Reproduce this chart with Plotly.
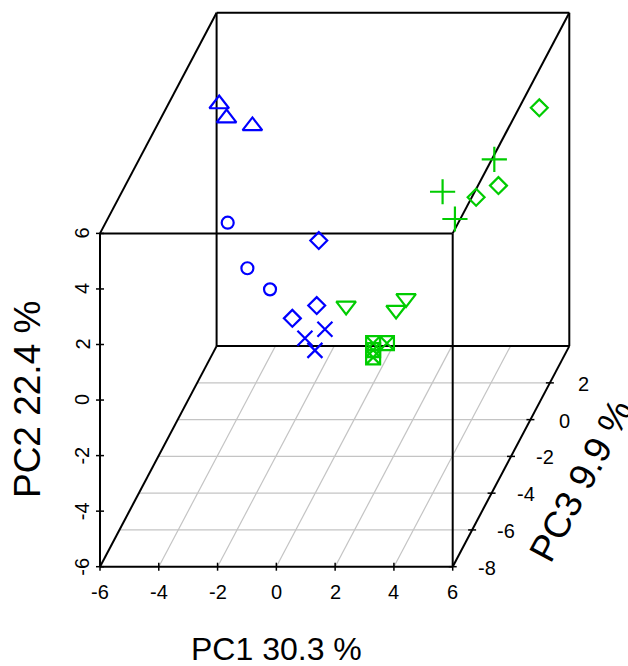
import plotly.graph_objects as go

# ---------------- data (PC scores) ----------------
pc1_ticks = [-6, -4, -2, 0, 2, 4, 6]
pc2_ticks = [-6, -4, -2, 0, 2, 4, 6]
pc3_ticks = [-8, -6, -4, -2, 0, 2]
PC1_LIM = (-6, 6)
PC2_LIM = (-6, 6)
PC3_LIM = (-8, 4)

pc1_title = "PC1 30.3 %"
pc2_title = "PC2 22.4 %"
pc3_title = "PC3 9.9 %"

# blue groups
b_tri_x = [-5.25, -5.00, -4.12]
b_tri_y = [4.04, 3.53, 3.25]
b_tri_z = [2.0, 2.0, 2.0]

b_circ_x = [-4.30, -3.63, -2.86]
b_circ_y = [1.09, -0.55, -1.31]
b_circ_z = [0.0, 0.0, 0.0]

b_dia_x = [-0.54, -0.61, -1.44]
b_dia_y = [1.77, -0.57, -1.03]
b_dia_z = [-2.0, -2.0, -2.0]

b_x_x = [0.33, -0.35, -0.01]
b_x_y = [-0.10, -0.42, -0.86]
b_x_z = [-4.0, -4.0, -4.0]

# green groups
g_tri_x = [0.39, 2.09, 2.43]
g_tri_y = [-0.58, -0.73, -0.31]
g_tri_z = [-2.0, -2.0, -2.0]

g_sq_x = [1.97, 1.97, 1.97, 2.44]
g_sq_y = [-0.60, -0.85, -1.11, -0.60]
g_sq_z = [-4.0, -4.0, -4.0, -4.0]

g_plus_x = [2.35, 2.77, 4.11]
g_plus_y = [0.88, -0.10, 2.05]
g_plus_z = [2.0, 2.0, 2.0]

g_dia_x = [5.31, 3.92, 3.16]
g_dia_y = [3.24, 0.44, 0.02]
g_dia_z = [3.0, 3.0, 3.0]

# ---------------- oblique projection setup (style) ----------------
W, H = 628, 666
ORIGIN_PX = (100.0, 566.7)       # pixel of (PC1=-6, PC2=-6, PC3=-8)
PX = 352.7 / 12.0                # px per PC1 unit
PY = 333.3 / 12.0                # px per PC2 unit
DEPTH_PX = (116.6, 220.6)        # pixel shift over the full PC3 range
zspan = PC3_LIM[1] - PC3_LIM[0]
KX = DEPTH_PX[0] / PX / zspan
KY = DEPTH_PX[1] / PY / zspan

u_left = PC1_LIM[0] - ORIGIN_PX[0] / PX
u_right = u_left + W / PX
v_bottom = PC2_LIM[0] - (H - ORIGIN_PX[1]) / PY
v_top = v_bottom + H / PY


def proj(x, y, z):
    return x + (z - PC3_LIM[0]) * KX, y + (z - PC3_LIM[0]) * KY


def proj_list(xs, ys, zs):
    pts = [proj(a, b, c) for a, b, c in zip(xs, ys, zs)]
    return [p[0] for p in pts], [p[1] for p in pts]


BLUE = "#0000FF"
GREEN = "#00CC00"
FONT = "Liberation Sans, Arial, sans-serif"

fig = go.Figure()

groups = [
    (b_tri_x, b_tri_y, b_tri_z, "triangle-up-open", 17, BLUE),
    (b_circ_x, b_circ_y, b_circ_z, "circle-open", 12, BLUE),
    (b_dia_x, b_dia_y, b_dia_z, "diamond-open", 13, BLUE),
    (b_x_x, b_x_y, b_x_z, "x-thin-open", 15, BLUE),
    (g_tri_x, g_tri_y, g_tri_z, "triangle-down-open", 17, GREEN),
    (g_sq_x, g_sq_y, g_sq_z, "square-x-open", 14, GREEN),
    (g_plus_x, g_plus_y, g_plus_z, "cross-thin-open", 18, GREEN),
    (g_dia_x, g_dia_y, g_dia_z, "diamond-open", 13, GREEN),
]
for xs, ys, zs, sym, size, col in groups:
    u, v = proj_list(xs, ys, zs)
    fig.add_trace(go.Scatter(
        x=u, y=v, mode="markers", showlegend=False, hoverinfo="skip",
        marker=dict(symbol=sym, size=size, color=col,
                    line=dict(color=col, width=2.2)),
    ))

shapes = []


def seg(p, q, color="black", width=2):
    (x0, y0), (x1, y1) = p, q
    shapes.append(dict(type="line", xref="x", yref="y", x0=x0, y0=y0,
                       x1=x1, y1=y1, layer="below",
                       line=dict(color=color, width=width)))


xa, xb = PC1_LIM
ya, yb = PC2_LIM
za, zb = PC3_LIM

# floor grid
for t in pc1_ticks[1:-1]:
    seg(proj(t, ya, za), proj(t, ya, zb), color="#C4C4C4", width=1.2)
for t in pc3_ticks[1:]:
    seg(proj(xa, ya, t), proj(xb, ya, t), color="#C4C4C4", width=1.2)

# box edges
for y_ in (ya, yb):
    for z_ in (za, zb):
        seg(proj(xa, y_, z_), proj(xb, y_, z_))
for x_ in (xa, xb):
    for z_ in (za, zb):
        seg(proj(x_, ya, z_), proj(x_, yb, z_))
for x_ in (xa, xb):
    for y_ in (ya, yb):
        seg(proj(x_, y_, za), proj(x_, y_, zb))

# tick marks (crossing the axis lines)
tx = 4.0 / PX
ty = 4.0 / PY
for t in pc1_ticks:
    u, v = proj(t, ya, za)
    seg((u, v - ty), (u, v + ty), width=1.5)
for t in pc2_ticks:
    u, v = proj(xa, t, za)
    seg((u - tx, v), (u + tx, v), width=1.5)
for t in pc3_ticks:
    u, v = proj(xb, ya, t)
    seg((u - tx, v), (u + tx, v), width=1.5)

annotations = []
tick_font = dict(family=FONT, size=20, color="black")
for t in pc1_ticks:
    u, v = proj(t, ya, za)
    annotations.append(dict(x=u, y=v, xref="x", yref="y", text=str(t),
                            showarrow=False, yshift=-25, font=tick_font,
                            xanchor="center", yanchor="middle"))
for t in pc2_ticks:
    u, v = proj(xa, t, za)
    annotations.append(dict(x=u, y=v, xref="x", yref="y", text=str(t),
                            showarrow=False, xshift=-18, textangle=-90,
                            font=tick_font, xanchor="center", yanchor="middle"))
for t in pc3_ticks:
    u, v = proj(xb, ya, t)
    annotations.append(dict(x=u, y=v, xref="x", yref="y", text=str(t),
                            showarrow=False, xshift=34, yshift=-1,
                            font=tick_font, xanchor="center", yanchor="middle"))

# axis titles
u, v = proj(0, ya, za)
annotations.append(dict(x=u, y=v, xref="x", yref="y", text=pc1_title,
                        showarrow=False, yshift=-82,
                        font=dict(family=FONT, size=32, color="black"),
                        xanchor="center", yanchor="middle"))
u, v = proj(xa, 0, za)
annotations.append(dict(x=u, y=v, xref="x", yref="y", text=pc2_title,
                        showarrow=False, xshift=-73, textangle=-90,
                        font=dict(family=FONT, size=37, color="black"),
                        xanchor="center", yanchor="middle"))
u, v = proj(xb, ya, -3)
annotations.append(dict(x=u, y=v, xref="x", yref="y", text=pc3_title,
                        showarrow=False, xshift=80, yshift=-6, textangle=-62,
                        font=dict(family=FONT, size=37, color="black"),
                        xanchor="center", yanchor="middle"))

fig.update_layout(
    width=W, height=H, autosize=False,
    margin=dict(l=0, r=0, t=0, b=0, pad=0),
    paper_bgcolor="white", plot_bgcolor="white",
    xaxis=dict(range=[u_left, u_right], visible=False, fixedrange=True),
    yaxis=dict(range=[v_bottom, v_top], visible=False, fixedrange=True),
    shapes=shapes, annotations=annotations,
)

fig.write_html("out.html")
